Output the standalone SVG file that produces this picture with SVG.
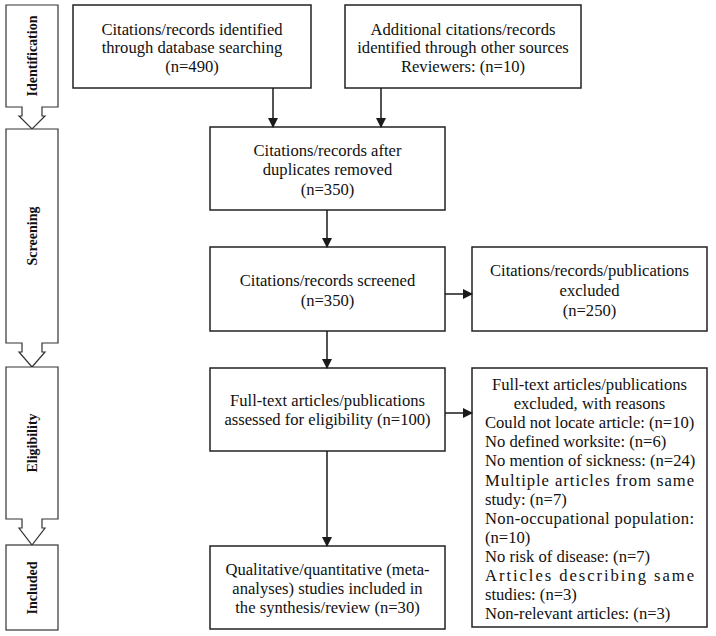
<svg xmlns="http://www.w3.org/2000/svg" width="716" height="636" viewBox="0 0 716 636">
<style>
.box{fill:#fff;stroke:#222;stroke-width:1.5}
.stage{fill:#fff;stroke:#333;stroke-width:1.2}
.ln{stroke:#1a1a1a;stroke-width:1.5;fill:none}
</style>
<defs>
<marker id="ah" markerWidth="10" markerHeight="10" refX="9" refY="5" orient="auto" markerUnits="userSpaceOnUse">
<path d="M0,0 L10,5 L0,10 Z" fill="#1a1a1a"/>
</marker>
</defs>
<rect width="716" height="636" fill="#fff"/>

<g id="stage-identification">
<path class="stage" d="M6,5 H58 V107 H42 V116 H45 L32,129 L19,116 H22 V107 H6 Z"/>
<text font-family="Liberation Serif" font-size="14" font-weight="bold" fill="#111" text-anchor="middle" transform="translate(37,56) rotate(-90)">Identification</text>
</g>
<g id="stage-screening">
<path class="stage" d="M6,129 H58 V343 H42 V352 H45 L32,367 L19,352 H22 V343 H6 Z"/>
<text font-family="Liberation Serif" font-size="14" font-weight="bold" fill="#111" text-anchor="middle" transform="translate(37,236) rotate(-90)">Screening</text>
</g>
<g id="stage-eligibility">
<path class="stage" d="M6,367 H58 V519 H42 V528 H45 L32,545 L19,528 H22 V519 H6 Z"/>
<text font-family="Liberation Serif" font-size="14" font-weight="bold" fill="#111" text-anchor="middle" transform="translate(37,443) rotate(-90)">Eligibility</text>
</g>
<g id="stage-included">
<rect class="stage" x="6" y="545" width="52" height="85"/>
<text font-family="Liberation Serif" font-size="14" font-weight="bold" fill="#111" text-anchor="middle" transform="translate(37,588) rotate(-90)">Included</text>
</g>

<g id="node-database">
<rect class="box" x="73" y="5" width="238" height="83"/>
<text font-family="Liberation Serif" font-size="16.6" fill="#111" text-anchor="middle" x="192" y="35">Citations/records identified</text>
<text font-family="Liberation Serif" font-size="16.6" fill="#111" text-anchor="middle" x="192" y="53">through database searching</text>
<text font-family="Liberation Serif" font-size="16.6" fill="#111" text-anchor="middle" x="192" y="72">(n=490)</text>
</g>
<g id="node-other">
<rect class="box" x="345" y="5" width="236" height="83"/>
<text font-family="Liberation Serif" font-size="16.6" fill="#111" text-anchor="middle" x="463" y="35">Additional citations/records</text>
<text font-family="Liberation Serif" font-size="16.6" fill="#111" text-anchor="middle" x="463" y="53">identified through other sources</text>
<text font-family="Liberation Serif" font-size="16.6" fill="#111" text-anchor="middle" x="463" y="72">Reviewers: (n=10)</text>
</g>
<g id="node-duplicates">
<rect class="box" x="210" y="127" width="235" height="83"/>
<text font-family="Liberation Serif" font-size="16.6" fill="#111" text-anchor="middle" x="327.5" y="155.5">Citations/records after</text>
<text font-family="Liberation Serif" font-size="16.6" fill="#111" text-anchor="middle" x="327.5" y="174.5">duplicates removed</text>
<text font-family="Liberation Serif" font-size="16.6" fill="#111" text-anchor="middle" x="327.5" y="194.5">(n=350)</text>
</g>
<g id="node-screened">
<rect class="box" x="210" y="247" width="235" height="84"/>
<text font-family="Liberation Serif" font-size="16.6" fill="#111" text-anchor="middle" x="327.5" y="285.5">Citations/records screened</text>
<text font-family="Liberation Serif" font-size="16.6" fill="#111" text-anchor="middle" x="327.5" y="305.5">(n=350)</text>
</g>
<g id="node-excluded1">
<rect class="box" x="472" y="247" width="235" height="84"/>
<text font-family="Liberation Serif" font-size="16.6" fill="#111" text-anchor="middle" x="589.5" y="276">Citations/records/publications</text>
<text font-family="Liberation Serif" font-size="16.6" fill="#111" text-anchor="middle" x="589.5" y="295.5">excluded</text>
<text font-family="Liberation Serif" font-size="16.6" fill="#111" text-anchor="middle" x="589.5" y="315.5">(n=250)</text>
</g>
<g id="node-eligibility">
<rect class="box" x="210" y="368" width="235" height="83"/>
<text font-family="Liberation Serif" font-size="16.6" fill="#111" text-anchor="middle" x="327.5" y="405.5">Full-text articles/publications</text>
<text font-family="Liberation Serif" font-size="16.6" fill="#111" text-anchor="middle" x="327.5" y="425">assessed for eligibility (n=100)</text>
</g>
<g id="node-included">
<rect class="box" x="210" y="546" width="235" height="83"/>
<text font-family="Liberation Serif" font-size="16.6" fill="#111" text-anchor="middle" x="327.5" y="574.5">Qualitative/quantitative (meta-</text>
<text font-family="Liberation Serif" font-size="16.6" fill="#111" text-anchor="middle" x="327.5" y="594">analyses) studies included in</text>
<text font-family="Liberation Serif" font-size="16.6" fill="#111" text-anchor="middle" x="327.5" y="612.5">the synthesis/review (n=30)</text>
</g>
<g id="node-excluded2">
<rect class="box" x="472" y="368" width="235" height="259"/>
<text font-family="Liberation Serif" font-size="16.6" fill="#111" text-anchor="middle" x="589.5" y="390">Full-text articles/publications</text>
<text font-family="Liberation Serif" font-size="16.6" fill="#111" text-anchor="middle" x="589.5" y="409">excluded, with reasons</text>
<text font-family="Liberation Serif" font-size="16.6" fill="#111" x="485" y="428">Could not locate article: (n=10)</text>
<text font-family="Liberation Serif" font-size="16.6" fill="#111" x="485" y="447">No defined worksite: (n=6)</text>
<text font-family="Liberation Serif" font-size="16.6" fill="#111" x="485" y="466">No mention of sickness: (n=24)</text>
<text font-family="Liberation Serif" font-size="16.6" fill="#111" x="485" y="485.5" textLength="209" lengthAdjust="spacing">Multiple articles from same</text>
<text font-family="Liberation Serif" font-size="16.6" fill="#111" x="485" y="504.5">study: (n=7)</text>
<text font-family="Liberation Serif" font-size="16.6" fill="#111" x="485" y="523.5" textLength="209" lengthAdjust="spacing">Non-occupational population:</text>
<text font-family="Liberation Serif" font-size="16.6" fill="#111" x="485" y="543">(n=10)</text>
<text font-family="Liberation Serif" font-size="16.6" fill="#111" x="485" y="562">No risk of disease: (n=7)</text>
<text font-family="Liberation Serif" font-size="16.6" fill="#111" x="485" y="581" textLength="209" lengthAdjust="spacing">Articles describing same</text>
<text font-family="Liberation Serif" font-size="16.6" fill="#111" x="485" y="600">studies: (n=3)</text>
<text font-family="Liberation Serif" font-size="16.6" fill="#111" x="485" y="619">Non-relevant articles: (n=3)</text>
</g>

<g id="connectors">
<line class="ln" x1="273" y1="88" x2="273" y2="127" marker-end="url(#ah)"/>
<line class="ln" x1="381" y1="88" x2="381" y2="127" marker-end="url(#ah)"/>
<line class="ln" x1="327" y1="210" x2="327" y2="247" marker-end="url(#ah)"/>
<line class="ln" x1="327" y1="331" x2="327" y2="368" marker-end="url(#ah)"/>
<line class="ln" x1="327" y1="451" x2="327" y2="546" marker-end="url(#ah)"/>
<line class="ln" x1="445" y1="294" x2="472" y2="294" marker-end="url(#ah)"/>
<line class="ln" x1="445" y1="413" x2="472" y2="413" marker-end="url(#ah)"/>
</g>
</svg>
